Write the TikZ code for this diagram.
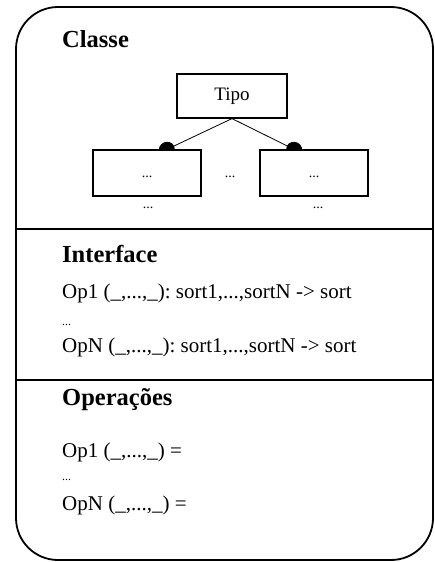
\documentclass[tikz,border=0pt]{standalone}
\usepackage{fontspec}
\setmainfont{Liberation Serif}
\usetikzlibrary{arrows.meta,backgrounds}
\begin{document}
\frenchspacing
\begin{tikzpicture}[x=1pt,y=-1pt,
  box/.style={draw, fill=white, line width=1.2pt, minimum width=108pt, minimum height=46pt, inner sep=0pt},
  head/.style={anchor=base west, inner sep=0pt, font=\fontsize{24.5}{25}\selectfont\bfseries},
  txt/.style={anchor=base west, inner sep=0pt, font=\fontsize{21}{21}\selectfont},
  dots/.style={inner sep=0pt, font=\fontsize{14}{14}\selectfont},
  lnk/.style={line width=0.8pt, -{Circle[length=16pt, width=15pt]}, shorten >=-8pt},
  frame/.style={line width=1.8pt, rounded corners=42pt},
  divider/.style={line width=1.3pt}]
\useasboundingbox (0,0) rectangle (435,562);
\draw[frame] (16,7) rectangle (433,560);
\coordinate (d1l) at (16,229);
\coordinate (d1r) at (433,229);
\coordinate (d2l) at (16,380);
\coordinate (d2r) at (433,380);
\draw[divider] (d1l) -- (d1r);
\draw[divider] (d2l) -- (d2r);

\node[head] (classe) at (62,47) {Classe};
\node[box, minimum width=110pt, minimum height=44pt, font=\fontsize{19}{19}\selectfont] (tipo) at (232,96) {Tipo};
\node[box] (c1) at (147,173) {};
\node[box] (c2) at (314,173) {};
\node[dots] (c1t) at (147,177) {...};
\node[dots] (c2t) at (314,177) {...};
\node[dots] (mid) at (230,177) {...};
\node[dots] (b1) at (148,208) {...};
\node[dots] (b2) at (318,208) {...};
\begin{scope}[on background layer]
\draw[lnk] (tipo.south) -- (c1.50);
\draw[lnk] (tipo.south) -- (c2.130);
\end{scope}

\node[head] (iface) at (62,262) {Interface};
\node[txt] (op1) at (62,298) {Op1 (\_,...,\_): sort1,...,sortN -> sort};
\node[txt, font=\fontsize{12}{12}\selectfont] (id) at (62,325) {...};
\node[txt] (opn) at (62,352) {OpN (\_,...,\_): sort1,...,sortN -> sort};

\node[head] (oper) at (62,405) {Operações};
\node[txt] (o1) at (62,457) {Op1 (\_,...,\_) =};
\node[txt, font=\fontsize{12}{12}\selectfont] (od) at (62,480) {...};
\node[txt] (on) at (62,510) {OpN (\_,...,\_) =};
\end{tikzpicture}
\end{document}
